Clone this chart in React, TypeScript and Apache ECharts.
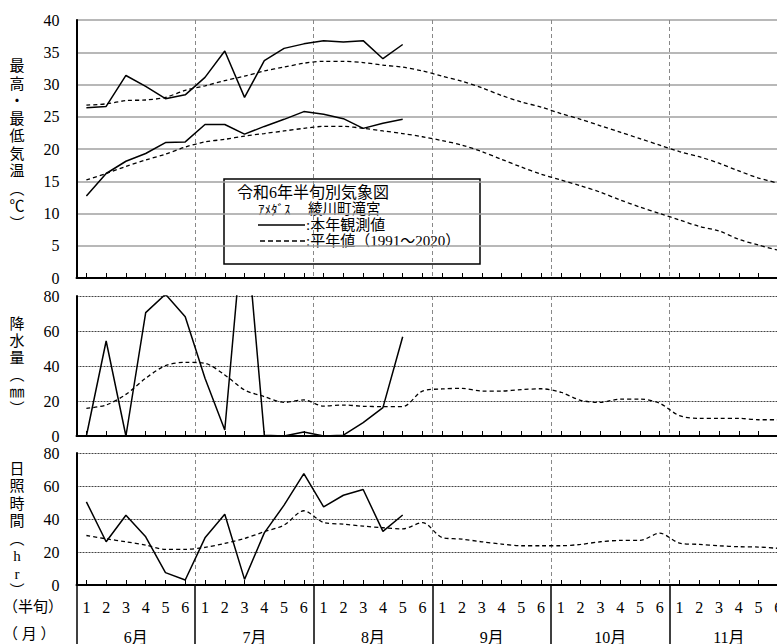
import React, { useEffect, useRef } from 'react';
import * as echarts from 'echarts';

const months = ['6月', '7月', '8月', '9月', '10月', '11月'];
const halves = ['1', '2', '3', '4', '5', '6'];
const categories = months.flatMap((m) => halves.map((h) => `${m}${h}`));

const maxActual = [26.4, 26.6, 31.4, 29.7, 27.8, 28.4, 31.1, 35.2, 28.0, 33.7, 35.6, 36.3, 36.8, 36.6, 36.8, 34.0, 36.2];
const minActual = [12.7, 16.2, 18.1, 19.3, 21.0, 21.1, 23.8, 23.8, 22.3, 23.5, 24.6, 25.8, 25.4, 24.7, 23.2, 24.0, 24.6];
const maxNormal = [26.8, 27.0, 27.5, 27.6, 28.0, 29.1, 29.8, 30.6, 31.3, 32.1, 32.7, 33.3, 33.6, 33.6, 33.4, 33.0, 32.7, 32.1, 31.3, 30.5, 29.5, 28.3, 27.3, 26.5, 25.5, 24.6, 23.6, 22.6, 21.6, 20.6, 19.6, 18.8, 17.8, 16.6, 15.5, 14.7];
const minNormal = [15.2, 16.2, 17.3, 18.3, 19.2, 20.3, 21.1, 21.5, 22.0, 22.4, 22.8, 23.2, 23.5, 23.5, 23.2, 22.8, 22.4, 21.9, 21.3, 20.6, 19.6, 18.4, 17.2, 16.1, 15.2, 14.3, 13.3, 12.1, 11.0, 10.0, 9.0, 8.0, 7.3, 6.0, 5.1, 4.3];
const precipActual = [0, 54.3, 0, 70.5, 81, 68.2, 33, 3.4, 130, 0.5, 0, 2.3, 0, 0.5, 7.6, 16.2, 56.7];
const precipNormal = [15.8, 17.7, 23.8, 33.0, 40.2, 42.1, 41.5, 34.9, 26.3, 22.5, 19.2, 20.6, 17.1, 17.7, 17.0, 16.8, 16.8, 25.7, 26.9, 27.2, 25.7, 25.7, 26.5, 27.0, 25.0, 20.4, 19.2, 21.1, 21.1, 18.7, 11.6, 10.1, 10.1, 10.1, 9.3, 9.3];
const sunActual = [50.4, 26.2, 42.3, 29.2, 7.5, 3.0, 28.6, 42.9, 3.4, 31.6, 48.4, 67.5, 47.4, 54.4, 57.9, 32.5, 42.4];
const sunNormal = [30.0, 28.0, 26.2, 24.2, 21.6, 21.6, 22.8, 25.2, 28.2, 32.3, 36.3, 45.0, 37.9, 36.9, 35.7, 34.7, 34.0, 37.8, 28.8, 27.8, 26.2, 24.8, 23.8, 23.8, 23.8, 24.6, 26.2, 27.0, 27.0, 31.4, 25.4, 24.6, 23.8, 23.2, 23.0, 22.2];

const FONT = "'Liberation Serif', 'Noto Sans CJK JP', serif";

const gridLeft = 76.5;
const gridWidth = 711.7;

function xAxisBase(gridIndex: number, showLabel: boolean) {
  return {
    type: 'category',
    gridIndex,
    data: categories,
    boundaryGap: true,
    position: 'bottom',
    axisLine: { show: true, onZero: false, lineStyle: { color: '#000', width: 2 } },
    axisTick: { show: true, inside: true, alignWithLabel: true, interval: 0, length: 5, lineStyle: { color: '#000', width: 1 } },
    axisLabel: {
      show: showLabel,
      interval: 0,
      margin: 14,
      fontSize: 16,
      color: '#000',
      fontFamily: FONT,
      formatter: (_v: string, i: number) => halves[i % 6],
    },
    splitLine: {
      show: true,
      interval: (i: number) => i > 0 && i % 6 === 0,
      lineStyle: { color: '#888', width: 1, type: [4, 3] },
    },
  };
}

function yAxisBase(gridIndex: number, max: number, interval: number, split: any) {
  return {
    type: 'value',
    gridIndex,
    min: 0,
    max,
    interval,
    axisLine: { show: true, lineStyle: { color: '#000', width: 2 } },
    axisTick: { show: false },
    axisLabel: { margin: 17, fontSize: 16, color: '#000', fontFamily: FONT },
    splitLine: { show: true, lineStyle: split },
  };
}

function lineSeries(data: number[], xi: number, dashed: boolean) {
  return {
    type: 'line',
    xAxisIndex: xi,
    yAxisIndex: xi,
    data,
    symbol: 'none',
    smooth: dashed ? 0.3 : false,
    clip: true,
    lineStyle: { color: '#000', width: dashed ? 1.3 : 1.5, type: dashed ? [4, 3] : 'solid' },
    z: dashed ? 3 : 4,
  };
}

function vText(text: string, x: number, y: number, lineHeight: number) {
  return {
    type: 'text',
    x,
    y,
    z: 10,
    style: {
      text,
      fontSize: 15,
      lineHeight,
      fontFamily: FONT,
      fill: '#000',
      align: 'center',
      verticalAlign: 'middle',
    },
  };
}

function hText(text: string, x: number, y: number, fontSize: number) {
  return {
    type: 'text',
    x,
    y,
    style: { text, fontSize, fontFamily: FONT, fill: '#000', align: 'left', verticalAlign: 'middle' },
  };
}

export default function App() {
  const ref = useRef<HTMLDivElement>(null);
  useEffect(() => {
    document.body.style.margin = '0';
    const chart = echarts.init(ref.current!, null, { renderer: 'svg' });
    const option: any = {
      animation: false,
      backgroundColor: '#fff',
      textStyle: { fontFamily: FONT },
      grid: [
        { left: gridLeft, width: gridWidth, top: 20, height: 258, outerBoundsMode: 'none', containLabel: false },
        { left: gridLeft, width: gridWidth, top: 296, height: 140, outerBoundsMode: 'none', containLabel: false },
        { left: gridLeft, width: gridWidth, top: 453, height: 132, outerBoundsMode: 'none', containLabel: false },
      ],
      xAxis: [
        xAxisBase(0, false),
        xAxisBase(1, false),
        xAxisBase(2, true),
        {
          type: 'category',
          gridIndex: 2,
          data: months,
          boundaryGap: true,
          position: 'bottom',
          axisLine: { show: false, onZero: false },
          axisTick: { show: true, inside: false, interval: 0, length: 60, lineStyle: { color: '#000', width: 1.5 } },
          axisLabel: { show: true, interval: 0, margin: 44, fontSize: 16, color: '#000', fontFamily: FONT },
          splitLine: { show: false },
        },
      ],
      yAxis: [
        yAxisBase(0, 40, 5, { color: '#a0a0a0', width: 1.5, type: 'solid' }),
        yAxisBase(1, 80, 20, { color: '#444', width: 1, type: [2, 1] }),
        yAxisBase(2, 80, 20, { color: '#444', width: 1, type: [2, 1] }),
      ],
      series: [
        lineSeries(maxNormal, 0, true),
        lineSeries(minNormal, 0, true),
        lineSeries(maxActual, 0, false),
        lineSeries(minActual, 0, false),
        lineSeries(precipNormal, 1, true),
        lineSeries(precipActual, 1, false),
        lineSeries(sunNormal, 2, true),
        lineSeries(sunActual, 2, false),
      ],
      graphic: [
        vText('最\n高\n・\n最\n低\n気\n温\n︵\n℃\n︶', 17, 145, 17.5),
        vText('降\n水\n量\n︵\n㎜\n︶', 17, 366, 17),
        vText('日\n照\n時\n間\n︵\nh\nr\n︶', 17, 530, 17.5),
        hText('（半旬）', 3, 607, 15),
        hText('（ 月 ）', 3, 634, 15),
        {
          type: 'group',
          z: 20,
          children: [
            {
              type: 'rect',
              shape: { x: 224, y: 179, width: 256, height: 85 },
              style: { fill: '#fff', stroke: '#000', lineWidth: 1.5 },
            },
            hText('令和6年半旬別気象図', 237, 192, 16),
            hText('ｱﾒﾀﾞｽ', 258, 209, 13),
            hText('綾川町滝宮', 308, 209, 14.5),
            { type: 'line', shape: { x1: 258, y1: 225, x2: 305, y2: 225 }, style: { stroke: '#000', lineWidth: 1.5 } },
            hText(':本年観測値', 306, 225, 15),
            { type: 'line', shape: { x1: 260, y1: 241, x2: 305, y2: 241 }, style: { stroke: '#000', lineWidth: 1.5, lineDash: [5, 3] } },
            hText(':平年値（1991～2020）', 306, 241, 15),
          ],
        },
      ],
    };
    chart.setOption(option);
    return () => chart.dispose();
  }, []);
  return <div ref={ref} style={{ position: 'absolute', left: 0, top: 0, width: 777, height: 644 }} />;
}
